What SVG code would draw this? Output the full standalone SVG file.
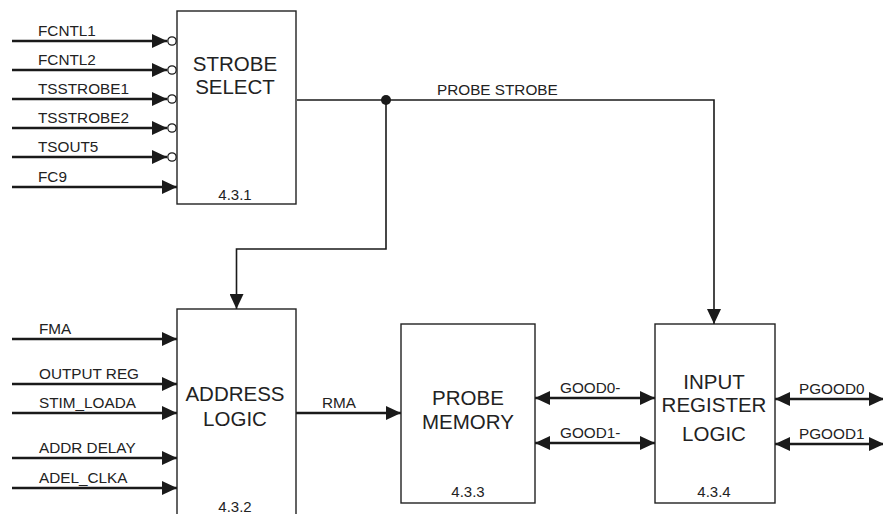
<svg xmlns="http://www.w3.org/2000/svg" width="883" height="514" viewBox="0 0 883 514">
<defs>
<marker id="ah" markerUnits="userSpaceOnUse" markerWidth="15" markerHeight="14" refX="15" refY="7" orient="auto-start-reverse">
<path d="M0,0 L15,7 L0,14 Z" fill="#1a1a1a"/>
</marker>
</defs>
<style>
.box{fill:#fff;stroke:#222;stroke-width:1.4}
.big{font-family:"Liberation Sans",Arial,sans-serif;font-size:20.5px;fill:#222;text-anchor:middle}
.num{font-family:"Liberation Sans",Arial,sans-serif;font-size:15px;fill:#222;text-anchor:middle}
.lbl{font-family:"Liberation Sans",Arial,sans-serif;font-size:15.3px;fill:#222}
.sig{fill:none;stroke:#1a1a1a;stroke-width:2.4}
.wire{fill:none;stroke:#1a1a1a;stroke-width:1.6}
.bub{fill:#fff;stroke:#1a1a1a;stroke-width:1.3}
</style>

<g id="connectors">
<line class="sig" x1="12" y1="41" x2="167" y2="41" marker-end="url(#ah)"/>
<line class="sig" x1="12" y1="70" x2="167" y2="70" marker-end="url(#ah)"/>
<line class="sig" x1="12" y1="99" x2="167" y2="99" marker-end="url(#ah)"/>
<line class="sig" x1="12" y1="128" x2="167" y2="128" marker-end="url(#ah)"/>
<line class="sig" x1="12" y1="157" x2="167" y2="157" marker-end="url(#ah)"/>
<line class="sig" x1="12" y1="187" x2="177" y2="187" marker-end="url(#ah)"/>
<circle class="bub" cx="172" cy="41" r="4.2"/>
<circle class="bub" cx="172" cy="70" r="4.2"/>
<circle class="bub" cx="172" cy="99" r="4.2"/>
<circle class="bub" cx="172" cy="128" r="4.2"/>
<circle class="bub" cx="172" cy="157" r="4.2"/>
<polyline class="wire" points="297,100 714,100 714,324" marker-end="url(#ah)"/>
<polyline class="wire" points="386,100 386,249 236.5,249 236.5,309" marker-end="url(#ah)"/>
<circle cx="386" cy="100" r="5" fill="#1a1a1a"/>
<line class="sig" x1="12" y1="339" x2="177" y2="339" marker-end="url(#ah)"/>
<line class="sig" x1="12" y1="384" x2="177" y2="384" marker-end="url(#ah)"/>
<line class="sig" x1="12" y1="413" x2="177" y2="413" marker-end="url(#ah)"/>
<line class="sig" x1="12" y1="458" x2="177" y2="458" marker-end="url(#ah)"/>
<line class="sig" x1="12" y1="488" x2="177" y2="488" marker-end="url(#ah)"/>
<line class="sig" x1="296" y1="413" x2="401" y2="413" marker-end="url(#ah)"/>
<line class="sig" x1="535" y1="398" x2="655" y2="398" marker-start="url(#ah)" marker-end="url(#ah)"/>
<line class="sig" x1="535" y1="443" x2="655" y2="443" marker-start="url(#ah)" marker-end="url(#ah)"/>
<line class="sig" x1="775" y1="399" x2="884" y2="399" marker-start="url(#ah)" marker-end="url(#ah)"/>
<line class="sig" x1="775" y1="444" x2="884" y2="444" marker-start="url(#ah)" marker-end="url(#ah)"/>
</g>

<g id="labels">
<text class="lbl" x="38" y="36">FCNTL1</text>
<text class="lbl" x="38" y="65">FCNTL2</text>
<text class="lbl" x="38" y="94">TSSTROBE1</text>
<text class="lbl" x="38" y="123">TSSTROBE2</text>
<text class="lbl" x="38" y="152">TSOUT5</text>
<text class="lbl" x="38" y="182">FC9</text>
<text class="lbl" x="437" y="95">PROBE STROBE</text>
<text class="lbl" x="39" y="334">FMA</text>
<text class="lbl" x="39" y="379">OUTPUT REG</text>
<text class="lbl" x="39" y="408">STIM_LOADA</text>
<text class="lbl" x="39" y="453">ADDR DELAY</text>
<text class="lbl" x="39" y="483">ADEL_CLKA</text>
<text class="lbl" x="322" y="408">RMA</text>
<text class="lbl" x="560" y="393">GOOD0-</text>
<text class="lbl" x="560" y="438">GOOD1-</text>
<text class="lbl" x="799" y="394">PGOOD0</text>
<text class="lbl" x="799" y="439">PGOOD1</text>
</g>

<g id="strobe-select">
<rect class="box" x="177" y="11" width="119" height="193"/>
<text class="big" x="235" y="71">STROBE</text>
<text class="big" x="235" y="94">SELECT</text>
<text class="num" x="235" y="200">4.3.1</text>
</g>

<g id="address-logic">
<rect class="box" x="177" y="309" width="119" height="215"/>
<text class="big" x="235" y="401">ADDRESS</text>
<text class="big" x="235" y="426">LOGIC</text>
<text class="num" x="235" y="512">4.3.2</text>
</g>

<g id="probe-memory">
<rect class="box" x="401" y="324" width="134" height="179"/>
<text class="big" x="468" y="405">PROBE</text>
<text class="big" x="468" y="429">MEMORY</text>
<text class="num" x="468" y="497">4.3.3</text>
</g>

<g id="input-register-logic">
<rect class="box" x="655" y="324" width="120" height="179"/>
<text class="big" x="714" y="389">INPUT</text>
<text class="big" x="714" y="412">REGISTER</text>
<text class="big" x="714" y="441">LOGIC</text>
<text class="num" x="714" y="497">4.3.4</text>
</g>
</svg>
